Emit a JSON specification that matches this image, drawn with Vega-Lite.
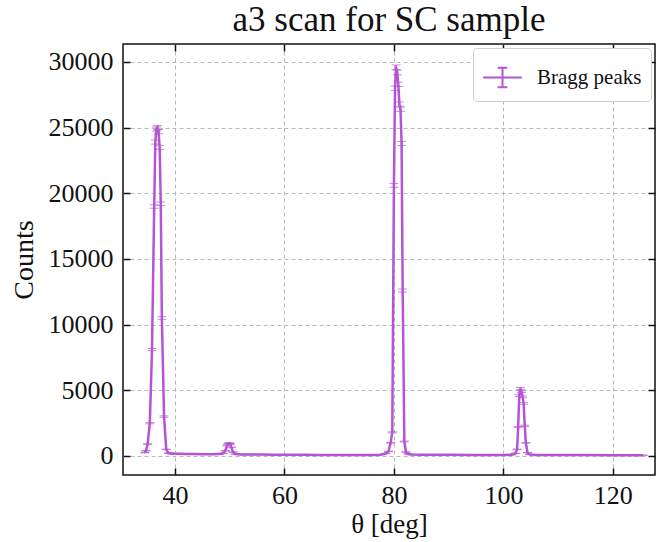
{
  "$schema": "https://vega.github.io/schema/vega-lite/v6.json",
  "width": 532,
  "height": 431,
  "autosize": "none",
  "padding": {"left": 123, "top": 44, "right": 3, "bottom": 67},
  "background": "white",
  "title": {"text": "a3 scan for SC sample", "font": "Liberation Serif", "fontSize": 35, "fontWeight": "normal", "color": "#111", "offset": 5, "anchor": "middle"},
  "config": {
    "view": {"stroke": "#111", "strokeWidth": 1.5},
    "axis": {"labelFont": "Liberation Serif", "titleFont": "Liberation Serif", "labelColor": "#111", "titleColor": "#111", "titleFontWeight": "normal", "domain": false, "tickColor": "#111", "tickWidth": 1.5, "gridColor": "#b0b0b0", "gridDash": [4, 3], "gridWidth": 0.9, "format": "d"}
  },
  "data": {"values": [
    {"theta": 34.5, "counts": 250, "err": 16},
    {"theta": 34.7, "counts": 400, "err": 20},
    {"theta": 35.0, "counts": 900, "err": 30},
    {"theta": 35.4, "counts": 2500, "err": 50},
    {"theta": 35.8, "counts": 8100, "err": 90},
    {"theta": 36.2, "counts": 19000, "err": 138},
    {"theta": 36.4, "counts": 23900, "err": 155},
    {"theta": 36.6, "counts": 24900, "err": 158},
    {"theta": 36.8, "counts": 25000, "err": 158},
    {"theta": 37.0, "counts": 24700, "err": 157},
    {"theta": 37.2, "counts": 23500, "err": 153},
    {"theta": 37.4, "counts": 19200, "err": 139},
    {"theta": 37.6, "counts": 10500, "err": 102},
    {"theta": 38.0, "counts": 3000, "err": 55},
    {"theta": 38.4, "counts": 500, "err": 22},
    {"theta": 38.8, "counts": 220, "err": 15},
    {"theta": 39.2, "counts": 180, "err": 13},
    {"theta": 40, "counts": 170, "err": 13},
    {"theta": 41, "counts": 160, "err": 13},
    {"theta": 42, "counts": 150, "err": 12},
    {"theta": 43, "counts": 145, "err": 12},
    {"theta": 44, "counts": 140, "err": 12},
    {"theta": 45, "counts": 135, "err": 12},
    {"theta": 46, "counts": 130, "err": 11},
    {"theta": 47, "counts": 130, "err": 11},
    {"theta": 48, "counts": 140, "err": 12},
    {"theta": 48.8, "counts": 200, "err": 14},
    {"theta": 49.2, "counts": 400, "err": 20},
    {"theta": 49.5, "counts": 800, "err": 28},
    {"theta": 49.7, "counts": 950, "err": 31},
    {"theta": 49.9, "counts": 980, "err": 31},
    {"theta": 50.1, "counts": 900, "err": 30},
    {"theta": 50.3, "counts": 650, "err": 25},
    {"theta": 50.6, "counts": 300, "err": 17},
    {"theta": 51, "counts": 150, "err": 12},
    {"theta": 52, "counts": 120, "err": 11},
    {"theta": 53, "counts": 115, "err": 11},
    {"theta": 54, "counts": 110, "err": 10},
    {"theta": 56, "counts": 105, "err": 10},
    {"theta": 58, "counts": 100, "err": 10},
    {"theta": 60, "counts": 95, "err": 10},
    {"theta": 62, "counts": 90, "err": 9},
    {"theta": 64, "counts": 85, "err": 9},
    {"theta": 66, "counts": 80, "err": 9},
    {"theta": 68, "counts": 80, "err": 9},
    {"theta": 70, "counts": 75, "err": 9},
    {"theta": 72, "counts": 75, "err": 9},
    {"theta": 74, "counts": 75, "err": 9},
    {"theta": 76, "counts": 80, "err": 9},
    {"theta": 77.5, "counts": 100, "err": 10},
    {"theta": 78.5, "counts": 180, "err": 13},
    {"theta": 79.0, "counts": 350, "err": 19},
    {"theta": 79.4, "counts": 1000, "err": 32},
    {"theta": 79.7, "counts": 1800, "err": 42},
    {"theta": 80.0, "counts": 20600, "err": 144},
    {"theta": 80.2, "counts": 28000, "err": 167},
    {"theta": 80.4, "counts": 29600, "err": 172},
    {"theta": 80.6, "counts": 29200, "err": 171},
    {"theta": 80.8, "counts": 28300, "err": 168},
    {"theta": 81.0, "counts": 26800, "err": 164},
    {"theta": 81.2, "counts": 26400, "err": 162},
    {"theta": 81.4, "counts": 23800, "err": 154},
    {"theta": 81.6, "counts": 12600, "err": 112},
    {"theta": 81.9, "counts": 1100, "err": 33},
    {"theta": 82.2, "counts": 300, "err": 17},
    {"theta": 82.6, "counts": 150, "err": 12},
    {"theta": 83, "counts": 120, "err": 11},
    {"theta": 85, "counts": 100, "err": 10},
    {"theta": 88, "counts": 90, "err": 9},
    {"theta": 90, "counts": 85, "err": 9},
    {"theta": 95, "counts": 80, "err": 9},
    {"theta": 100, "counts": 75, "err": 9},
    {"theta": 101.5, "counts": 90, "err": 9},
    {"theta": 102.2, "counts": 200, "err": 14},
    {"theta": 102.5, "counts": 500, "err": 22},
    {"theta": 102.7, "counts": 2200, "err": 47},
    {"theta": 102.9, "counts": 4600, "err": 68},
    {"theta": 103.1, "counts": 5150, "err": 72},
    {"theta": 103.3, "counts": 4900, "err": 70},
    {"theta": 103.5, "counts": 4500, "err": 67},
    {"theta": 103.7, "counts": 4000, "err": 63},
    {"theta": 103.9, "counts": 2300, "err": 48},
    {"theta": 104.1, "counts": 1000, "err": 32},
    {"theta": 104.4, "counts": 250, "err": 16},
    {"theta": 104.8, "counts": 110, "err": 10},
    {"theta": 106, "counts": 80, "err": 9},
    {"theta": 110, "counts": 70, "err": 8},
    {"theta": 115, "counts": 65, "err": 8},
    {"theta": 120, "counts": 60, "err": 8},
    {"theta": 125.5, "counts": 55, "err": 7}
  ]},
  "layer": [
    {
      "mark": {"type": "line", "strokeWidth": 2.5, "color": "#b455d3"},
      "encoding": {
        "x": {"field": "theta", "type": "quantitative", "scale": {"domain": [30.5, 127.7], "nice": false, "zero": false},
          "axis": {"orient": "bottom", "values": [40, 60, 80, 100, 120], "title": "θ [deg]", "titleFontSize": 27, "labelFontSize": 26, "tickSize": -7, "labelPadding": 14, "titlePadding": 3, "grid": true}},
        "y": {"field": "counts", "type": "quantitative", "scale": {"domain": [-1450, 31370], "nice": false, "zero": false},
          "axis": {"orient": "left", "values": [0, 5000, 10000, 15000, 20000, 25000, 30000], "title": "Counts", "titleFontSize": 28, "labelFontSize": 26, "tickSize": -7, "labelPadding": 17, "titlePadding": 10, "grid": true}},
        "color": {"datum": "Bragg peaks", "type": "nominal", "scale": {"range": ["#b455d3"]},
          "legend": {"title": null, "orient": "top-right", "offset": 4, "labelFont": "Liberation Serif", "labelFontSize": 21, "labelColor": "#111", "fillColor": "white", "strokeColor": "#d0d0d0", "cornerRadius": 4, "padding": 9, "symbolType": "M-1,0L1,0M0,-0.5L0,0.5M-0.25,-0.5L0.25,-0.5M-0.25,0.5L0.25,0.5", "symbolSize": 1500, "symbolStrokeWidth": 2, "symbolStrokeColor": "#b455d3", "labelOffset": 14}}
      }
    },
    {
      "mark": {"type": "errorbar", "ticks": {"size": 9, "color": "#b455d3", "strokeWidth": 1.5}, "rule": {"color": "#b455d3", "strokeWidth": 1.5}},
      "encoding": {
        "x": {"field": "theta", "type": "quantitative",
          "axis": {"orient": "top", "values": [40, 60, 80, 100, 120], "labels": false, "title": null, "tickSize": -7, "grid": false}},
        "y": {"field": "counts", "type": "quantitative",
          "axis": {"orient": "right", "values": [0, 5000, 10000, 15000, 20000, 25000, 30000], "labels": false, "title": null, "tickSize": -7, "grid": false}},
        "yError": {"field": "err"}
      }
    }
  ]
}
